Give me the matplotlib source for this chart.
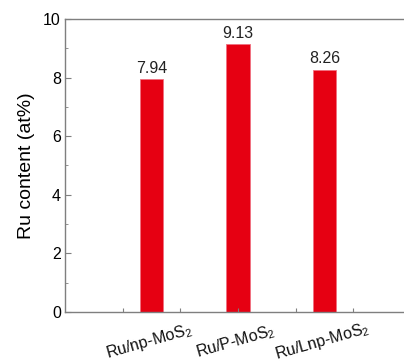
import matplotlib
matplotlib.use("Agg")
import matplotlib.pyplot as plt
from matplotlib.ticker import MultipleLocator, FixedLocator

categories = ["Ru/np-MoS$_2$", "Ru/P-MoS$_2$", "Ru/Lnp-MoS$_2$"]
values = [7.94, 9.13, 8.26]
positions = [1, 2, 3]

plt.rcParams['font.family'] = ['Liberation Sans', 'DejaVu Sans']
plt.rcParams['mathtext.fontset'] = 'custom'
plt.rcParams['mathtext.rm'] = 'Liberation Sans'
plt.rcParams['mathtext.it'] = 'Liberation Sans:italic'

fig = plt.figure(figsize=(4.04, 3.64), dpi=100)
ax = fig.add_axes([0.161, 0.143, 0.856, 0.805])

grey = '#7f7f7f'
ax.bar(positions, values, width=0.27, color='#e60012', edgecolor='#f07080', linewidth=0.6)
for p, v in zip(positions, values):
    ax.text(p, v + 0.12, f"{v:.2f}", ha='center', va='bottom', fontsize=11.5, color='#222222')

ax.set_xlim(0, 4)
ax.set_ylim(0, 10)
ax.yaxis.set_major_locator(MultipleLocator(2))
ax.yaxis.set_minor_locator(MultipleLocator(1))
ax.xaxis.set_major_locator(FixedLocator([2/3, 4/3, 2, 8/3, 10/3]))
ax.set_xticklabels([])
for s in ax.spines.values():
    s.set_color(grey)
    s.set_linewidth(1.0)
ax.tick_params(axis='both', which='both', direction='in', color=grey)
ax.tick_params(axis='y', which='major', length=4, labelsize=11.5, pad=3)
ax.tick_params(axis='y', which='minor', length=2)
ax.tick_params(axis='x', which='major', length=3)

for p, c in zip(positions, categories):
    ax.text(p - 0.03, -1.02, c, rotation=16, ha='center', va='center', fontsize=11.5,
            transform=ax.transData, color='#111111', clip_on=False,
            rotation_mode='anchor')

ax.set_ylabel("Ru content (at%)", fontsize=14, labelpad=6)

fig.savefig("out.png", dpi=100)
